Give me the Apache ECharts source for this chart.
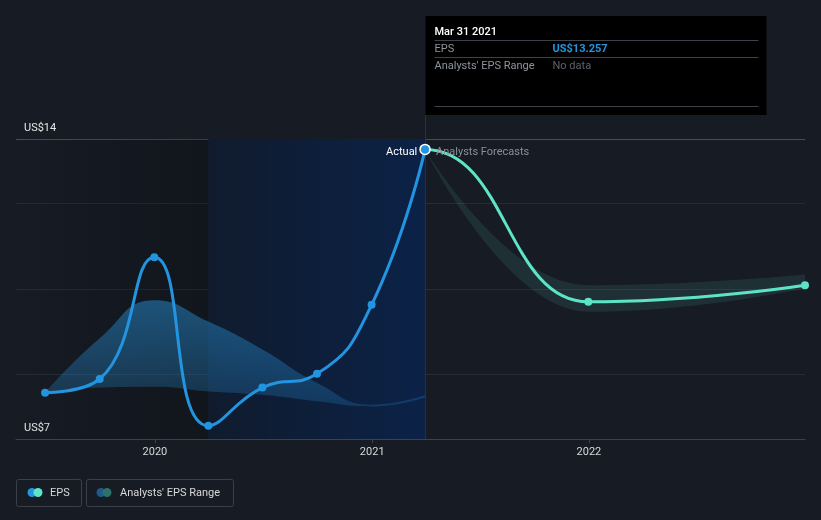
<!DOCTYPE html>
<html><head><meta charset="utf-8">
<script src="https://cdn.jsdelivr.net/npm/echarts@6/dist/echarts.min.js"></script>
<style>html,body{margin:0;padding:0;background:#161b24;}#c{width:821px;height:520px;}</style>
</head><body><div id="c"></div>
<script>
// ---- data ----
const actualDates = ['2019-06-30','2019-09-30','2019-12-31','2020-03-31','2020-06-30','2020-09-30','2020-12-31','2021-03-31'];
const actualEps   = [7.58, 7.90, 10.74, 6.81, 7.70, 8.02, 9.63, 13.257];
const pastRangeLow  = [7.58, 7.70, 7.72, 7.61, 7.53, 7.38, 7.26, 7.47];
const pastRangeHigh = [7.58, 8.85, 9.74, 9.24, 8.59, 7.81, 7.30, 7.52];
const forecastDates = ['2021-03-31','2021-12-31','2022-12-31'];
const forecastEps   = [13.257, 9.70, 10.09];
const forecastLow   = [13.257, 9.47, 10.02];
const forecastHigh  = [13.257, 10.09, 10.34];
const yTickValues = [6.5, 13.5];
const yTickLabels = ['US$7', 'US$14'];
const yGridValues = [6.5, 8, 10, 12, 13.5];
const xMin = '2019-05-12', xMax = '2022-12-31';
const pastStart = '2020-03-31', actualEnd = '2021-03-31';
const tooltipDate = 'Mar 31 2021', tooltipEps = 'US$13.257';

const ts = s => { const [y, m, d] = s.split('-').map(Number); return new Date(y, m - 1, d).getTime(); };
const pair = (d, v) => d.map((x, i) => [ts(x), v[i]]);
const DAY = 864e5;

// forecast line is drawn as a continuation of the actual series; the segment before the
// first forecast date is made transparent so that only the forecast part shows
const nA = actualDates.length;
const fcLine = [[ts(actualDates[nA - 2]), actualEps[nA - 2]]].concat(pair(forecastDates, forecastEps));
const fcStart = fcLine[0][0], fcEnd = fcLine[fcLine.length - 1][0];
const cut = (ts(actualEnd) - fcStart) / (fcEnd - fcStart);
const TEAL = '#5de4c7';

const chart = echarts.init(document.getElementById('c'), null, {renderer: 'canvas'});
const FONT = 'Roboto, "Noto Sans", sans-serif';
const FS = 11;

const option = {
  backgroundColor: '#161b24',
  animation: false,
  textStyle: {fontFamily: FONT},
  grid: {left: 16, right: 16, top: 139, bottom: 81, containLabel: false},
  xAxis: {
    type: 'time', min: ts(xMin), max: ts(xMax),
    minInterval: 365 * DAY, maxInterval: 366 * DAY,
    axisLine: {show: true, lineStyle: {color: '#3c414a', width: 1}},
    axisTick: {show: true, length: 4, lineStyle: {color: '#3c414a'}},
    axisLabel: {color: '#d8d8d8', fontSize: FS, margin: 8, showMinLabel: false, showMaxLabel: false,
      formatter: v => String(new Date(v).getFullYear())},
    splitLine: {show: false}
  },
  yAxis: {
    type: 'value', min: 6.5, max: 13.5,
    axisLine: {show: false},
    axisTick: {show: false, customValues: yGridValues},
    axisLabel: {customValues: yTickValues, inside: true, margin: 8, color: '#e6e6e6', fontSize: FS,
      verticalAlign: 'bottom', padding: [0, 0, 5, 0],
      formatter: v => yTickLabels[yTickValues.indexOf(v)] || ''},
    splitLine: {show: true, lineStyle: {color: ['#3c414a', '#262b34', '#262b34', '#262b34', '#474c55'], width: 1}}
  },
  series: [
    {
      type: 'line', data: [], silent: true, z: 0,
      markArea: {silent: true, data: [
        [{xAxis: ts(xMin), itemStyle: {color: {type: 'linear', x: 0, y: 0, x2: 1, y2: 0, colorStops: [
          {offset: 0, color: 'rgba(0,0,0,0)'}, {offset: 1, color: 'rgba(0,0,0,0.22)'}]}}}, {xAxis: ts(pastStart)}],
        [{xAxis: ts(pastStart), itemStyle: {color: {type: 'linear', x: 0, y: 0, x2: 1, y2: 0, colorStops: [
          {offset: 0, color: '#101b2d'}, {offset: 1, color: '#0b2247'}]}}}, {xAxis: ts(actualEnd)}]
      ]}
    },
    {
      name: 'rangeLow', type: 'line', stack: 'past', smooth: 0.5, symbol: 'none', z: 1,
      lineStyle: {opacity: 0}, data: pair(actualDates, pastRangeLow)
    },
    {
      name: "Analysts' EPS Range", type: 'line', stack: 'past', smooth: 0.5, symbol: 'none', z: 1,
      lineStyle: {opacity: 0},
      areaStyle: {color: {type: 'linear', x: 0, y: 0, x2: 0, y2: 1, colorStops: [
        {offset: 0, color: 'rgba(40,150,225,0.68)'}, {offset: 1, color: 'rgba(40,150,225,0.3)'}]}},
      data: pair(actualDates, pastRangeHigh.map((h, i) => h - pastRangeLow[i]))
    },
    {
      name: 'fLow', type: 'line', stack: 'fc', smooth: 0.5, smoothMonotone: 'x', symbol: 'none', z: 1,
      lineStyle: {opacity: 0}, data: pair(forecastDates, forecastLow)
    },
    {
      name: 'fRange', type: 'line', stack: 'fc', smooth: 0.5, smoothMonotone: 'x', symbol: 'none', z: 1,
      lineStyle: {opacity: 0}, areaStyle: {color: 'rgba(93,210,190,0.17)'},
      data: pair(forecastDates, forecastHigh.map((h, i) => h - forecastLow[i]))
    },
    {
      name: 'Forecast', type: 'line', smooth: 0.5, smoothMonotone: 'x', z: 3,
      symbol: 'circle', symbolSize: 8, showAllSymbol: true,
      itemStyle: {color: TEAL},
      lineStyle: {width: 3, color: {type: 'linear', x: 0, y: 0, x2: 1, y2: 0, colorStops: [
        {offset: 0, color: 'rgba(93,228,199,0)'}, {offset: cut, color: 'rgba(93,228,199,0)'},
        {offset: cut, color: TEAL}, {offset: 1, color: TEAL}]}},
      data: fcLine.map((p, i) => i === 0 ? {value: p, symbol: 'none'} : i === 1 ? {value: p, label: {
        show: true, formatter: 'Analysts Forecasts', position: 'right', distance: 7, offset: [0, 3],
        color: '#8a8f98', fontSize: FS, fontFamily: FONT}} : p)
    },
    {
      name: 'EPS', type: 'line', smooth: 0.5, z: 4,
      symbol: 'circle', symbolSize: 8, showAllSymbol: true,
      lineStyle: {color: '#2394df', width: 3}, itemStyle: {color: '#2394df'},
      data: pair(actualDates, actualEps).map((p, i) => i === nA - 1 ? {value: p, symbolSize: 10,
        itemStyle: {color: '#2394df', borderColor: '#ffffff', borderWidth: 1.5},
        label: {show: true, formatter: 'Actual', position: 'left', distance: 2, offset: [0, 3],
          color: '#ffffff', fontSize: FS, fontFamily: FONT}} : p)
    }
  ]
};
chart.setOption(option);

const lx = Math.round(chart.convertToPixel({xAxisIndex: 0}, ts(actualEnd))) + 0.5;
const gy0 = chart.convertToPixel({yAxisIndex: 0}, 6.5);
const tx = lx, ty = 16, tw = 341, th = 99;
const F = FS + 'px ' + FONT;
const g = [
  {type: 'line', shape: {x1: lx, y1: ty + th, x2: lx, y2: gy0}, style: {stroke: '#17325e', lineWidth: 1}, z: 2},
  {type: 'rect', shape: {x: tx, y: ty, width: tw, height: th}, style: {fill: '#000000'}, z: 10},
  {type: 'text', x: tx + 9, y: 32, style: {text: tooltipDate, fill: '#ffffff', font: '500 ' + F, verticalAlign: 'middle'}, z: 11},
  {type: 'line', shape: {x1: tx + 9, y1: 40.5, x2: tx + tw - 8, y2: 40.5}, style: {stroke: '#3e434b'}, z: 11},
  {type: 'text', x: tx + 9, y: 49, style: {text: 'EPS', fill: '#8f949b', font: F, verticalAlign: 'middle'}, z: 11},
  {type: 'text', x: tx + 127, y: 49, style: {text: tooltipEps, fill: '#2394df', font: 'bold ' + F, verticalAlign: 'middle'}, z: 11},
  {type: 'line', shape: {x1: tx + 9, y1: 57.5, x2: tx + tw - 8, y2: 57.5}, style: {stroke: '#3e434b'}, z: 11},
  {type: 'text', x: tx + 9, y: 66, style: {text: "Analysts' EPS Range", fill: '#8f949b', font: F, verticalAlign: 'middle'}, z: 11},
  {type: 'text', x: tx + 127, y: 66, style: {text: 'No data', fill: '#5d626a', font: F, verticalAlign: 'middle'}, z: 11},
  {type: 'line', shape: {x1: tx + 9, y1: 106.5, x2: tx + tw - 8, y2: 106.5}, style: {stroke: '#3e434b'}, z: 11},
  {type: 'rect', shape: {x: 16.5, y: 479.5, width: 65, height: 27, r: 2}, style: {fill: 'none', stroke: '#3a3f48'}},
  {type: 'circle', shape: {cx: 32, cy: 492.5, r: 4.5}, style: {fill: '#2394df'}},
  {type: 'circle', shape: {cx: 38, cy: 492.5, r: 4.5}, style: {fill: TEAL}},
  {type: 'text', x: 50, y: 493, style: {text: 'EPS', fill: '#d8d8d8', font: F, verticalAlign: 'middle'}},
  {type: 'rect', shape: {x: 86.5, y: 479.5, width: 147, height: 27, r: 2}, style: {fill: 'none', stroke: '#3a3f48'}},
  {type: 'circle', shape: {cx: 101, cy: 492.5, r: 4.5}, style: {fill: '#1e5a8c'}},
  {type: 'circle', shape: {cx: 107, cy: 492.5, r: 4.5}, style: {fill: '#2d716a'}},
  {type: 'text', x: 120, y: 493, style: {text: "Analysts' EPS Range", fill: '#d8d8d8', font: F, verticalAlign: 'middle'}}
];
chart.setOption({graphic: {elements: g}});
</script>
</body></html>
